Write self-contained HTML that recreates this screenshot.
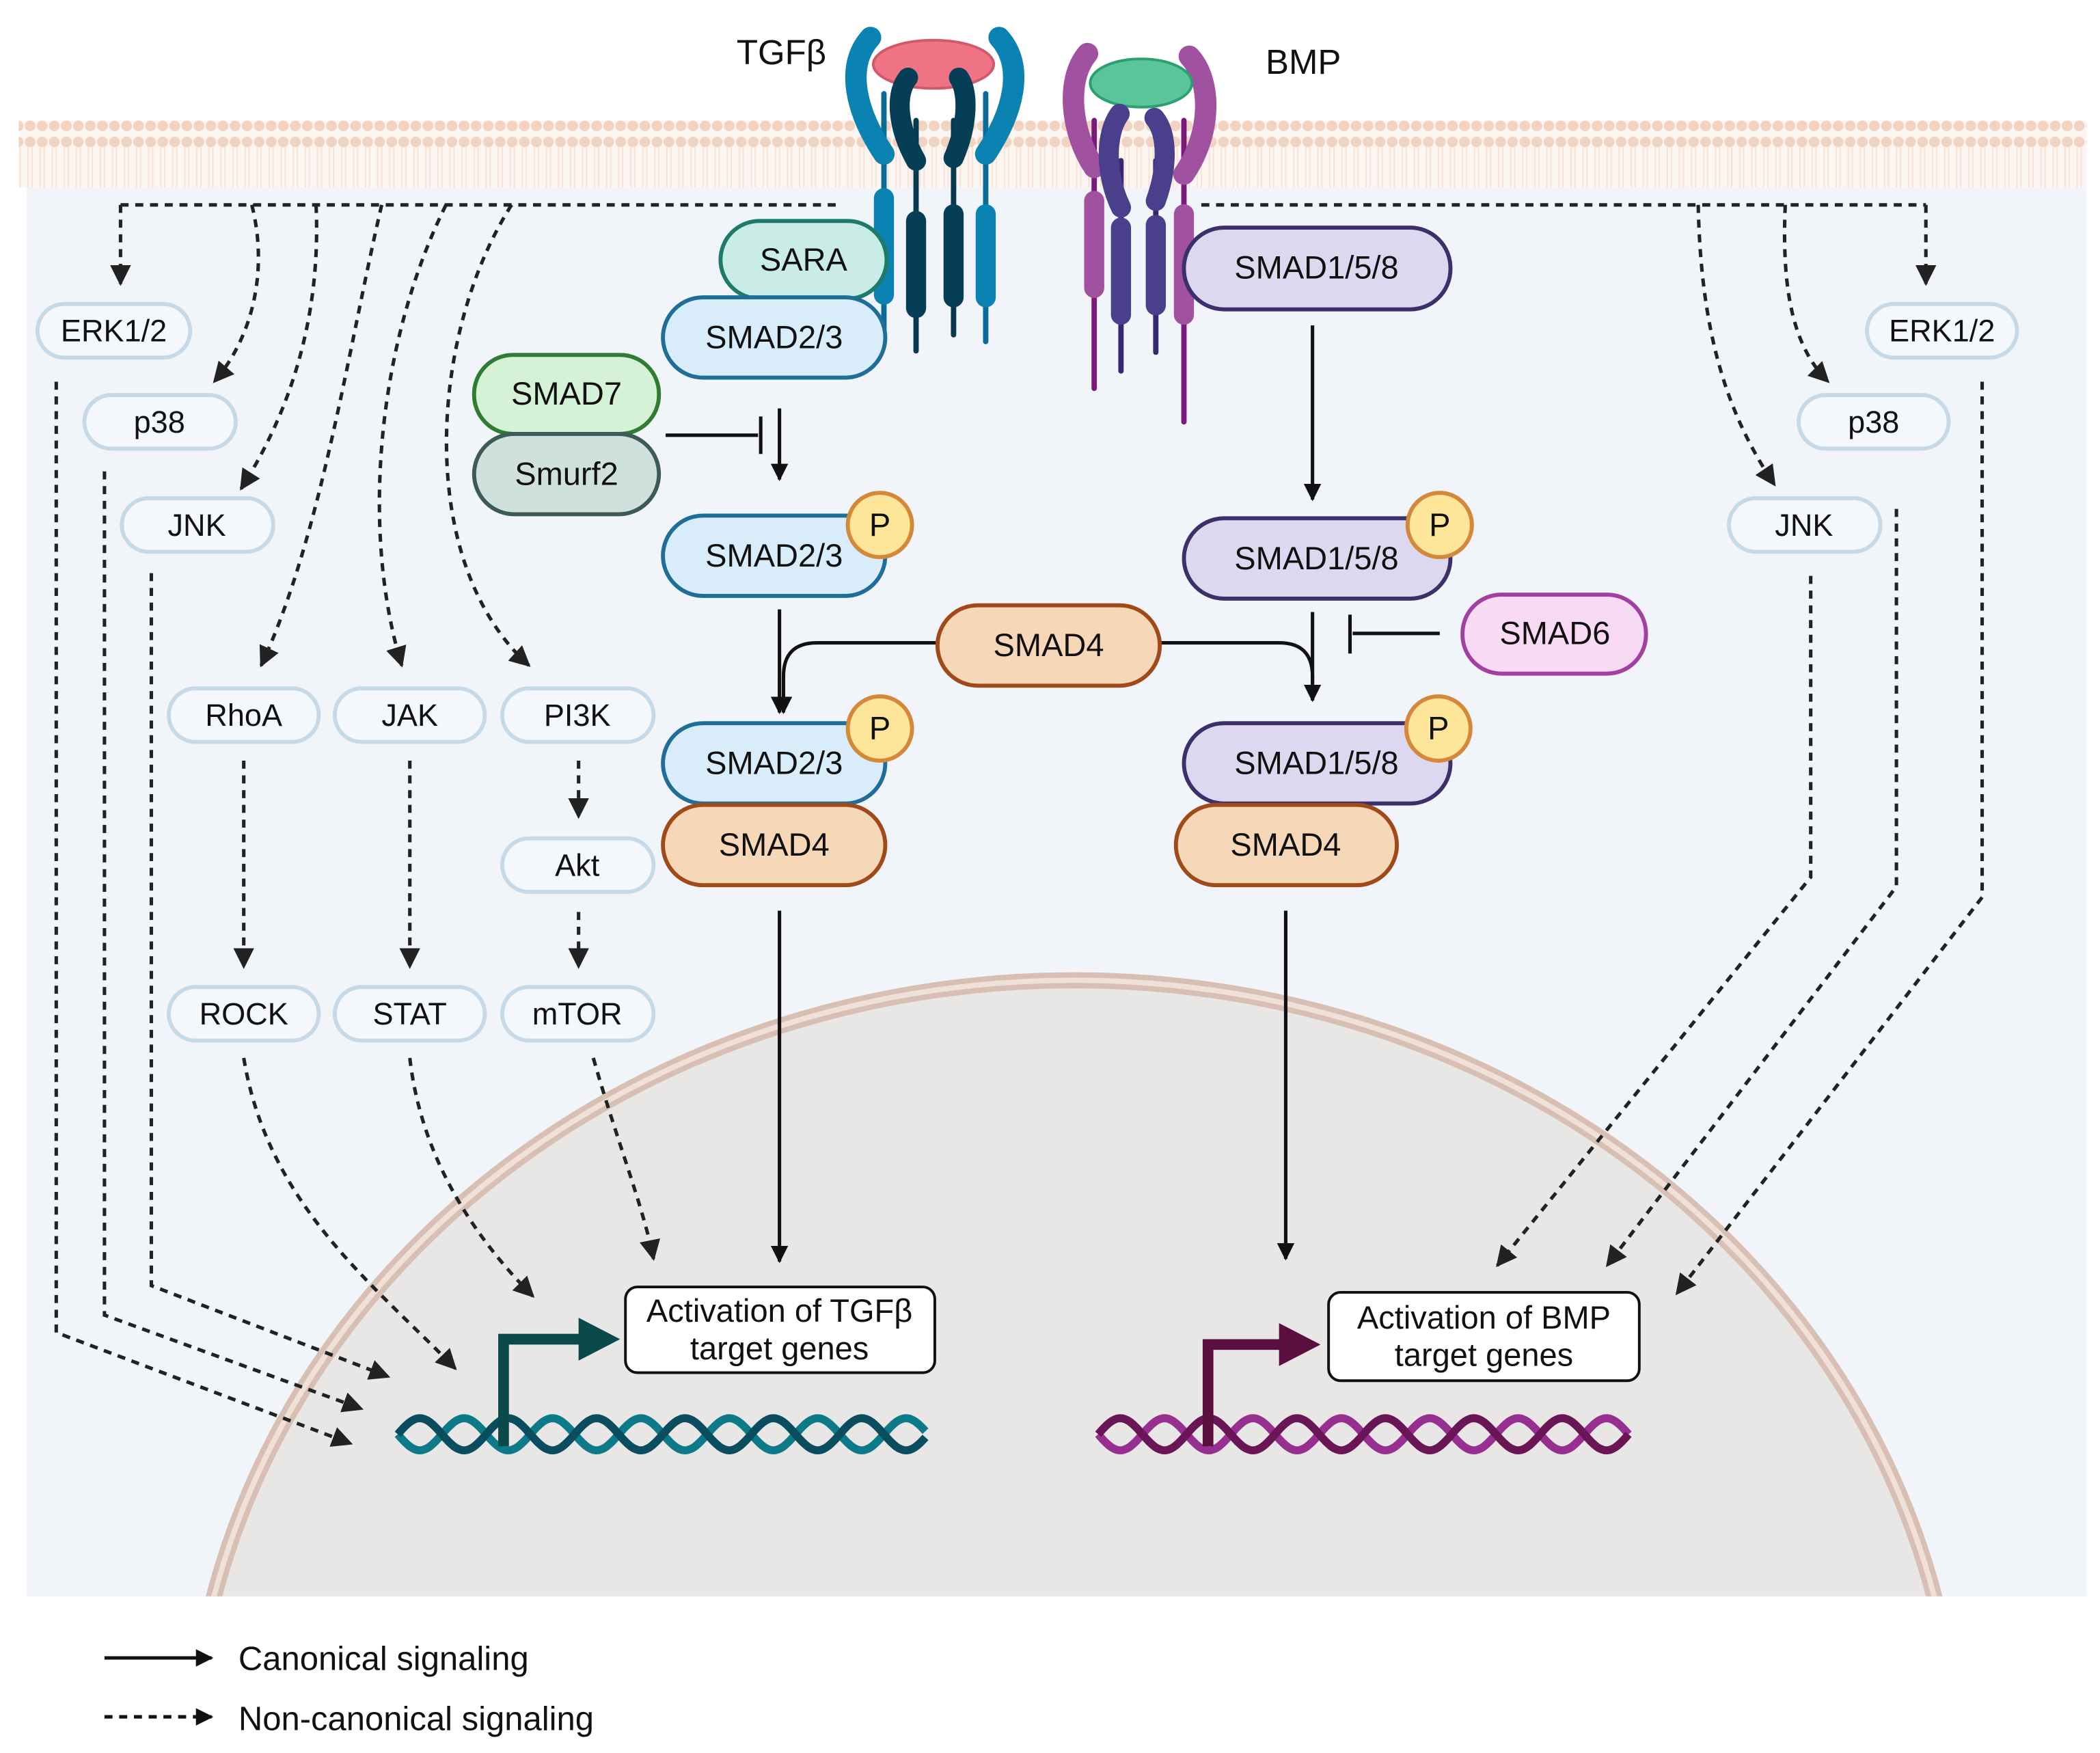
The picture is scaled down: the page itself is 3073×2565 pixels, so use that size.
<!DOCTYPE html>
<html><head><meta charset="utf-8"><style>
html,body{margin:0;padding:0;background:#fff;width:3073px;height:2565px;overflow:hidden}
svg{display:block}
text{font-family:"Liberation Sans",sans-serif;fill:#111}
</style></head><body>
<svg id="s" width="3073" height="2565" viewBox="0 0 1568 1309" preserveAspectRatio="none" xmlns="http://www.w3.org/2000/svg">
<defs>
<marker id="ah" viewBox="0 0 10 10" refX="9" refY="5" markerWidth="5" markerHeight="5" orient="auto"><path d="M0,0L10,5L0,10z" fill="#111"/></marker>
<marker id="ad" viewBox="0 0 10 10" refX="9" refY="5" markerWidth="6" markerHeight="6" orient="auto"><path d="M0,0L10,5L0,10z" fill="#222"/></marker>
<pattern id="mem" x="0" y="0" width="9" height="50" patternUnits="userSpaceOnUse">
<circle cx="4.5" cy="6" r="4" fill="#f1d3c1"/><circle cx="4.5" cy="44" r="4" fill="#f1d3c1"/>
<line x1="3" y1="10" x2="3" y2="40" stroke="#f6e2d7" stroke-width="1"/><line x1="6" y1="10" x2="6" y2="40" stroke="#f6e2d7" stroke-width="1"/>
</pattern>
<clipPath id="cell"><rect x="20" y="140" width="1538" height="1052"/></clipPath>
</defs>
<rect width="1568" height="1309" fill="#fff"/>
<rect x="20" y="140" width="1538" height="1052" fill="#f1f4f8"/>
<rect x="14" y="90" width="1544" height="50" fill="#fdf5f1"/>
<rect x="14" y="90" width="1544" height="50" fill="url(#mem)"/>
<g clip-path="url(#cell)">
<ellipse cx="802" cy="1330" rx="660" ry="598" fill="#e9e7e6" stroke="#d7bfb3" stroke-width="12"/>
<ellipse cx="802" cy="1330" rx="660" ry="598" fill="none" stroke="#efe0d8" stroke-width="4"/>
</g>

<!-- receptors TGFb -->
<g stroke-linecap="round" fill="none">
<line x1="660" y1="70" x2="660" y2="255" stroke="#0a6a98" stroke-width="4"/>
<line x1="736" y1="70" x2="736" y2="255" stroke="#0a6a98" stroke-width="4"/>
<line x1="684" y1="90" x2="684" y2="262" stroke="#063a4f" stroke-width="4"/>
<line x1="712" y1="90" x2="712" y2="250" stroke="#063a4f" stroke-width="4"/>
<line x1="660" y1="148" x2="660" y2="220" stroke="#0a82b2" stroke-width="15"/>
<line x1="736" y1="160" x2="736" y2="222" stroke="#0a82b2" stroke-width="15"/>
<line x1="684" y1="165" x2="684" y2="230" stroke="#063f55" stroke-width="15"/>
<line x1="712" y1="160" x2="712" y2="222" stroke="#063f55" stroke-width="15"/>
<path d="M660,115 C640,85 630,50 650,28 M736,115 C756,85 766,50 746,28" stroke="#0a82b2" stroke-width="16"/>
</g>
<ellipse cx="697" cy="48" rx="45" ry="18" fill="#f07385" stroke="#d05a6a" stroke-width="2"/>
<path d="M684,120 C670,95 668,70 678,58 M712,118 C722,95 724,70 716,58" stroke="#063f55" stroke-width="15" fill="none" stroke-linecap="round"/>
<!-- receptors BMP -->
<g stroke-linecap="round" fill="none">
<line x1="817" y1="90" x2="817" y2="290" stroke="#7a1a7a" stroke-width="4"/>
<line x1="884" y1="90" x2="884" y2="315" stroke="#7a1a7a" stroke-width="4"/>
<line x1="837" y1="120" x2="837" y2="277" stroke="#35286f" stroke-width="4"/>
<line x1="863" y1="120" x2="863" y2="263" stroke="#35286f" stroke-width="4"/>
<line x1="817" y1="150" x2="817" y2="215" stroke="#a052a0" stroke-width="15"/>
<line x1="884" y1="160" x2="884" y2="235" stroke="#a052a0" stroke-width="15"/>
<line x1="837" y1="170" x2="837" y2="235" stroke="#4a3f8a" stroke-width="15"/>
<line x1="863" y1="168" x2="863" y2="228" stroke="#4a3f8a" stroke-width="15"/>
<path d="M817,125 C800,100 795,60 812,40 M884,130 C905,100 905,60 888,42" stroke="#a052a0" stroke-width="16"/>
</g>
<ellipse cx="852" cy="62" rx="38" ry="18" fill="#5bc49a" stroke="#2aa070" stroke-width="2"/>
<path d="M837,155 C825,130 825,100 836,85 M863,150 C872,125 872,100 862,88" stroke="#4a3f8a" stroke-width="15" fill="none" stroke-linecap="round"/>
<text x="550" y="48" font-size="26">TGFβ</text>
<text x="945" y="55" font-size="26">BMP</text>

<!-- dashed connectors -->
<g fill="none" stroke="#222" stroke-width="2.6" stroke-dasharray="6,5">
<path d="M90,153 H628 M897,153 H1438"/>
<path d="M90,153 V212" marker-end="url(#ad)"/>
<path d="M188,153 C200,200 190,250 160,285" marker-end="url(#ad)"/>
<path d="M236,153 C240,240 215,310 180,365" marker-end="url(#ad)"/>
<path d="M285,153 C260,260 240,400 195,497" marker-end="url(#ad)"/>
<path d="M333,153 C280,260 270,400 300,497" marker-end="url(#ad)"/>
<path d="M382,153 C320,250 310,420 395,497" marker-end="url(#ad)"/>
<path d="M1268,153 C1270,250 1290,310 1325,362" marker-end="url(#ad)"/>
<path d="M1333,153 C1330,220 1340,260 1365,285" marker-end="url(#ad)"/>
<path d="M1438,153 V212" marker-end="url(#ad)"/>
<path d="M182,568 V722" marker-end="url(#ad)"/>
<path d="M306,568 V722" marker-end="url(#ad)"/>
<path d="M432,568 V610" marker-end="url(#ad)"/>
<path d="M432,681 V722" marker-end="url(#ad)"/>
<path d="M42,285 V995 L262,1078" marker-end="url(#ad)"/>
<path d="M78,352 V982 L270,1052" marker-end="url(#ad)"/>
<path d="M113,428 V960 L290,1028" marker-end="url(#ad)"/>
<path d="M182,790 C200,900 280,960 340,1022" marker-end="url(#ad)"/>
<path d="M306,790 C315,870 360,930 398,968" marker-end="url(#ad)"/>
<path d="M443,790 C460,850 480,900 488,940" marker-end="url(#ad)"/>
<path d="M1352,430 V655 L1118,945" marker-end="url(#ad)"/>
<path d="M1416,380 V662 L1200,945" marker-end="url(#ad)"/>
<path d="M1480,285 V670 L1252,966" marker-end="url(#ad)"/>
</g>

<!-- solid connectors -->
<g fill="none" stroke="#111" stroke-width="2.6">
<path d="M582,305 V358" marker-end="url(#ah)"/>
<path d="M497,325 H566 M568,311 V339"/>
<path d="M582,455 V532" marker-end="url(#ah)"/>
<path d="M700,480 H610 Q585,480 585,505 V532" marker-end="url(#ah)"/>
<path d="M866,480 H955 Q980,480 980,505 V523" marker-end="url(#ah)"/>
<path d="M980,243 V373" marker-end="url(#ah)"/>
<path d="M980,457 V510"/>
<path d="M1075,473 H1010 M1008,459 V488"/>
<path d="M582,680 V942" marker-end="url(#ah)"/>
<path d="M960,680 V940" marker-end="url(#ah)"/>
<path d="M78,1238 H158" marker-end="url(#ah)"/>
<path d="M78,1282 H158" stroke-dasharray="6,5" marker-end="url(#ah)"/>
</g>
<text x="178" y="1247" font-size="25">Canonical signaling</text>
<text x="178" y="1292" font-size="25">Non-canonical signaling</text>

<!-- small pills -->
<g font-size="23" text-anchor="middle">
<g fill="#f4f8fc" stroke="#c6d9e8" stroke-width="3">
<rect x="28" y="227" width="114" height="40" rx="20"/>
<rect x="63" y="295" width="113" height="40" rx="20"/>
<rect x="91" y="372" width="113" height="40" rx="20"/>
<rect x="126" y="514" width="112" height="40" rx="20"/>
<rect x="250" y="514" width="112" height="40" rx="20"/>
<rect x="375" y="514" width="113" height="40" rx="20"/>
<rect x="375" y="626" width="113" height="40" rx="20"/>
<rect x="126" y="737" width="112" height="40" rx="20"/>
<rect x="250" y="737" width="112" height="40" rx="20"/>
<rect x="375" y="737" width="113" height="40" rx="20"/>
<rect x="1394" y="227" width="112" height="40" rx="20"/>
<rect x="1343" y="295" width="112" height="40" rx="20"/>
<rect x="1291" y="372" width="113" height="40" rx="20"/>
</g>
<text x="85" y="255">ERK1/2</text>
<text x="119" y="323">p38</text>
<text x="147" y="400">JNK</text>
<text x="182" y="542">RhoA</text>
<text x="306" y="542">JAK</text>
<text x="431" y="542">PI3K</text>
<text x="431" y="654">Akt</text>
<text x="182" y="765">ROCK</text>
<text x="306" y="765">STAT</text>
<text x="431" y="765">mTOR</text>
<text x="1450" y="255">ERK1/2</text>
<text x="1399" y="323">p38</text>
<text x="1347" y="400">JNK</text>
</g>

<!-- big pills -->
<g font-size="24" text-anchor="middle" stroke-width="3">
<rect x="538" y="165" width="124" height="58" rx="29" fill="#c9ede6" stroke="#1e7a6a"/>
<text x="600" y="202" stroke="none">SARA</text>
<rect x="495" y="222" width="166" height="60" rx="30" fill="#d9ecf9" stroke="#1e6e97"/>
<text x="578" y="260" stroke="none">SMAD2/3</text>
<rect x="354" y="265" width="138" height="59" rx="29" fill="#d6f2d6" stroke="#2e7d32"/>
<text x="423" y="302" stroke="none">SMAD7</text>
<rect x="354" y="324" width="138" height="60" rx="30" fill="#d0e1dd" stroke="#3d5a55"/>
<text x="423" y="362" stroke="none">Smurf2</text>
<rect x="495" y="385" width="166" height="60" rx="30" fill="#d9ecf9" stroke="#1e6e97"/>
<text x="578" y="423" stroke="none">SMAD2/3</text>
<rect x="700" y="452" width="166" height="60" rx="30" fill="#f6d7b8" stroke="#a04a1a"/>
<text x="783" y="490" stroke="none">SMAD4</text>
<rect x="495" y="540" width="166" height="60" rx="30" fill="#d9ecf9" stroke="#1e6e97"/>
<text x="578" y="578" stroke="none">SMAD2/3</text>
<rect x="495" y="601" width="166" height="60" rx="30" fill="#f6d7b8" stroke="#a04a1a"/>
<text x="578" y="639" stroke="none">SMAD4</text>
<rect x="884" y="170" width="199" height="61" rx="30" fill="#ddd8f0" stroke="#3c2f6a"/>
<text x="983" y="208" stroke="none">SMAD1/5/8</text>
<rect x="884" y="387" width="199" height="60" rx="30" fill="#ddd8f0" stroke="#3c2f6a"/>
<text x="983" y="425" stroke="none">SMAD1/5/8</text>
<rect x="1092" y="444" width="137" height="59" rx="29" fill="#f9daf4" stroke="#a040a0"/>
<text x="1161" y="481" stroke="none">SMAD6</text>
<rect x="884" y="540" width="199" height="60" rx="30" fill="#ddd8f0" stroke="#3c2f6a"/>
<text x="983" y="578" stroke="none">SMAD1/5/8</text>
<rect x="878" y="601" width="165" height="60" rx="30" fill="#f6d7b8" stroke="#a04a1a"/>
<text x="960" y="639" stroke="none">SMAD4</text>
<g fill="#fde59a" stroke="#d4883a">
<circle cx="657" cy="392" r="24"/><circle cx="657" cy="544" r="24"/>
<circle cx="1075" cy="392" r="24"/><circle cx="1074" cy="544" r="24"/>
</g>
<g stroke="none"><text x="657" y="400">P</text><text x="657" y="552">P</text><text x="1075" y="400">P</text><text x="1074" y="552">P</text></g>
</g>

<!-- gene boxes -->
<rect x="467" y="961" width="231" height="64" rx="9" fill="#fff" stroke="#111" stroke-width="2"/>
<text x="582" y="987" font-size="24" text-anchor="middle">Activation of TGFβ</text>
<text x="582" y="1015" font-size="24" text-anchor="middle">target genes</text>
<rect x="992" y="965" width="232" height="66" rx="9" fill="#fff" stroke="#111" stroke-width="2"/>
<text x="1108" y="992" font-size="24" text-anchor="middle">Activation of BMP</text>
<text x="1108" y="1020" font-size="24" text-anchor="middle">target genes</text>

<g id="dna"></g>
<path d="M376,1080 V1000 H440" fill="none" stroke="#0b4a4a" stroke-width="8"/>
<path d="M432,984 L463,1000 L432,1016z" fill="#0b4a4a"/>
<path d="M902,1080 V1004 H960" fill="none" stroke="#5a0f3f" stroke-width="8"/>
<path d="M955,988 L986,1004 L955,1020z" fill="#5a0f3f"/>
</svg>
<script>
(function(){
var g=document.getElementById('dna');
function helix(x0,x1,yc,A,P,c1,c2){
 [[c1,0],[c2,P/2]].forEach(function(s){
  var d='';for(var x=x0;x<=x1;x+=2){var y=yc+A*Math.sin((x-x0+s[1])*2*Math.PI/P);d+=(d?'L':'M')+x+','+y.toFixed(1);}
  var p=document.createElementNS('http://www.w3.org/2000/svg','path');
  p.setAttribute('d',d);p.setAttribute('fill','none');p.setAttribute('stroke',s[0]);p.setAttribute('stroke-width','6');
  g.appendChild(p);});
}
helix(297,692,1071,12,66,'#0d7a8a','#0a4d5e');
helix(820,1216,1071,12,66,'#962f90','#6a1555');
})();
</script>
</body></html>
